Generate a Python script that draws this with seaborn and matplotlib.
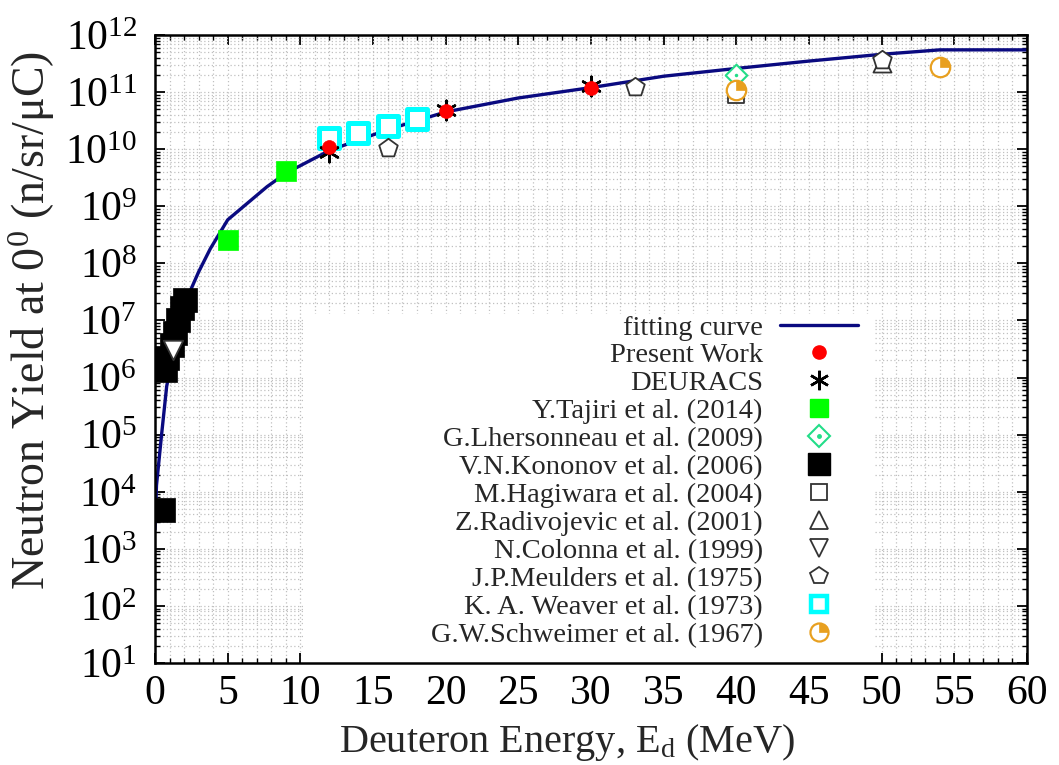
import matplotlib
matplotlib.use("Agg")
import matplotlib.pyplot as plt
import seaborn as sns
import pandas as pd
from matplotlib.lines import Line2D
from matplotlib.path import Path
from matplotlib.patches import Rectangle
from matplotlib.ticker import LogLocator, MultipleLocator, NullFormatter, LogFormatterSciNotation

# ---- fitted yield curve ----
fit_energy = [0, 0.1, 0.45, 0.8, 1.5, 2.3, 3.0, 3.8, 5.0, 7.7, 9, 12, 16, 20, 25, 30, 35, 40, 45, 50, 54, 60]
fit_yield = [2.2e3, 1.3e4, 1.0e5, 7.0e5, 5.6e6, 2.8e7, 7.1e7, 1.8e8, 5.8e8, 2.2e9, 3.8e9, 9.5e9,
             2.2e10, 4.5e10, 7.9e10, 1.2e11, 1.9e11, 2.6e11, 3.5e11, 4.6e11, 5.5e11, 5.5e11]

# ---- measured thick-target neutron yields at 0 degrees ----
present_E = [12, 20, 30]
present_Y = [1.1e10, 4.6e10, 1.17e11]
deuracs_E = [12, 20, 30]
deuracs_Y = [8.9e9, 4.9e10, 1.3e11]
tajiri_E = [5, 9]
tajiri_Y = [2.6e8, 4.1e9]
lhersonneau_E = [40]
lhersonneau_Y = [2.0e11]
kononov_E = [0.55, 0.69, 0.8, 1.15, 1.38, 1.58, 1.84, 2.06]
kononov_Y = [4.8e3, 1.35e6, 2.2e6, 3.7e6, 6.0e6, 1.0e7, 1.66e7, 2.3e7]
hagiwara_E = [40]
hagiwara_Y = [8.9e10]
radivojevic_E = [50]
radivojevic_Y = [3.2e11]
colonna_E = [1.24]
colonna_Y = [3.0e6]
meulders_E = [16, 33, 50]
meulders_Y = [1.05e10, 1.23e11, 3.6e11]
weaver_E = [12, 14, 16, 18]
weaver_Y = [1.6e10, 1.9e10, 2.6e10, 3.4e10]
schweimer_E = [40, 54]
schweimer_Y = [1.1e11, 2.8e11]

legend_labels = ["fitting curve", "Present Work", "DEURACS", "Y.Tajiri et al. (2014)",
                 "G.Lhersonneau et al. (2009)", "V.N.Kononov et al. (2006)",
                 "M.Hagiwara et al. (2004)", "Z.Radivojevic et al. (2001)",
                 "N.Colonna et al. (1999)", "J.P.Meulders et al. (1975)",
                 "K. A. Weaver et al. (1973)", "G.W.Schweimer et al. (1967)"]

sns.set_theme(style="ticks")
plt.rcParams["font.family"] = ["Liberation Serif", "DejaVu Serif"]
plt.rcParams["mathtext.fontset"] = "custom"
plt.rcParams["mathtext.rm"] = "Liberation Serif"
plt.rcParams["mathtext.it"] = "Liberation Serif:italic"

NAVY = "#0a0a80"
GREEN = "#00ff00"
MINT = "#22dd88"
CYAN = "#00ffff"
ORANGE = "#e8a020"
GREY = "#333333"
quarter = Path.wedge(0, 90)
asterisk = (6, 2, 0)

fig = plt.figure(figsize=(10.59, 7.65), dpi=100)
ax = fig.add_axes([0.1464, 0.1333, 0.8234, 0.8209])
ax.set_yscale("log")
ax.set_xlim(0, 60)
ax.set_ylim(10, 1e12)

ax.grid(which="both", color="#c0c0c0", linestyle=(0, (1, 2)), linewidth=0.9, zorder=0)
ax.set_axisbelow(True)

# blank panel behind the key
ax.add_patch(Rectangle((0.170, 0.0), 0.653, 0.555, transform=ax.transAxes,
                       facecolor="white", edgecolor="none", zorder=1))

fit_df = pd.DataFrame({"E": fit_energy, "Y": fit_yield})
sns.lineplot(data=fit_df, x="E", y="Y", sort=False, estimator=None, color=NAVY,
             linewidth=2.4, ax=ax, zorder=3)


def scatter(E, Y, zorder=4, **kw):
    df = pd.DataFrame({"E": E, "Y": Y})
    sns.scatterplot(data=df, x="E", y="Y", ax=ax, zorder=zorder, legend=False, **kw)


scatter(kononov_E, kononov_Y, marker="s", s=17**2, facecolor="black", edgecolor="black", linewidth=0.5)
scatter(colonna_E, colonna_Y, marker="v", s=14**2, facecolor="white", edgecolor=GREY, linewidth=1.3, zorder=5)
scatter(tajiri_E, tajiri_Y, marker="s", s=14**2, facecolor=GREEN, edgecolor=GREEN, linewidth=0.5)
scatter(weaver_E, weaver_Y, marker="s", s=14**2, facecolor="white", edgecolor=CYAN, linewidth=3.6)
scatter(meulders_E, meulders_Y, marker="p", s=14**2, facecolor="white", edgecolor=GREY, linewidth=1.3)
scatter(radivojevic_E, radivojevic_Y, marker="^", s=13**2, facecolor="white", edgecolor=GREY, linewidth=1.3, zorder=3.9)
scatter(hagiwara_E, hagiwara_Y, marker="s", s=12**2, facecolor="white", edgecolor=GREY, linewidth=1.3)
scatter(lhersonneau_E, lhersonneau_Y, marker="D", s=11**2, facecolor="white", edgecolor=MINT, linewidth=1.5)
scatter(lhersonneau_E, lhersonneau_Y, marker="o", s=2.5**2, facecolor=MINT, edgecolor=MINT, linewidth=0)
scatter(schweimer_E, schweimer_Y, marker="o", s=14**2, facecolor="white", edgecolor=ORANGE, linewidth=1.6, zorder=5)
scatter(schweimer_E, schweimer_Y, marker=quarter, s=14**2, facecolor=ORANGE, edgecolor=ORANGE, linewidth=0.5, zorder=5)
scatter(deuracs_E, deuracs_Y, marker=asterisk, s=14**2, color="black", linewidth=1.8, zorder=6)
scatter(present_E, present_Y, marker="o", s=10**2, facecolor="red", edgecolor="red", linewidth=0.5, zorder=7)

# axes, ticks and labels
ax.xaxis.set_major_locator(MultipleLocator(5))
ax.xaxis.set_minor_locator(MultipleLocator(1))
ax.yaxis.set_major_locator(LogLocator(base=10, numticks=20))
ax.yaxis.set_minor_locator(LogLocator(base=10, subs=range(2, 10), numticks=20))
ax.yaxis.set_major_formatter(LogFormatterSciNotation())
ax.yaxis.set_minor_formatter(NullFormatter())
ax.tick_params(which="both", direction="in", top=True, right=True, colors="black")
ax.tick_params(which="major", length=7, width=1.3, labelsize=30, pad=8)
ax.tick_params(axis="y", which="major", pad=13)
ax.tick_params(which="minor", length=3.5, width=1.0)
for sp in ax.spines.values():
    sp.set_linewidth(1.8)
    sp.set_color("black")
    sp.set_zorder(10)

ax.set_xlabel("Deuteron Energy, E$_\\mathrm{d}$ (MeV)", fontsize=29)
ax.set_ylabel("Neutron Yield at 0$^\\mathrm{0}$ (n/sr/\u03bcC)", fontsize=33)
ax.xaxis.set_label_coords(0.4725, -0.094)
ax.yaxis.set_label_coords(-0.112, 0.546)

# key
def h(**kw):
    return Line2D([], [], linestyle="none", **kw)

handles = [
    Line2D([], [], color=NAVY, linewidth=2.4),
    h(marker="o", markersize=9.5, mfc="red", mec="red"),
    h(marker=asterisk, markersize=14, color="black", mew=1.8),
    h(marker="s", markersize=13, mfc=GREEN, mec=GREEN),
    (h(marker="D", markersize=11, mfc="white", mec=MINT, mew=1.5),
     h(marker="o", markersize=2.5, mfc=MINT, mec=MINT)),
    h(marker="s", markersize=16, mfc="black", mec="black"),
    h(marker="s", markersize=12, mfc="white", mec=GREY, mew=1.3),
    h(marker="^", markersize=13, mfc="white", mec=GREY, mew=1.3),
    h(marker="v", markersize=13, mfc="white", mec=GREY, mew=1.3),
    h(marker="p", markersize=13, mfc="white", mec=GREY, mew=1.3),
    h(marker="s", markersize=12, mfc="white", mec=CYAN, mew=3.2),
    (h(marker="o", markersize=13, mfc="white", mec=ORANGE, mew=1.6),
     h(marker=quarter, markersize=13, mfc=ORANGE, mec=ORANGE, mew=0.5)),
]
leg = ax.legend(handles, legend_labels, loc="upper right", bbox_to_anchor=(0.819, 0.573),
                frameon=False, markerfirst=False, fontsize=20.5, handlelength=2.74,
                handletextpad=0.6, labelspacing=0.07, borderpad=0.4, borderaxespad=0)
leg.set_zorder(8)

fig.savefig("out.png", dpi=100)
